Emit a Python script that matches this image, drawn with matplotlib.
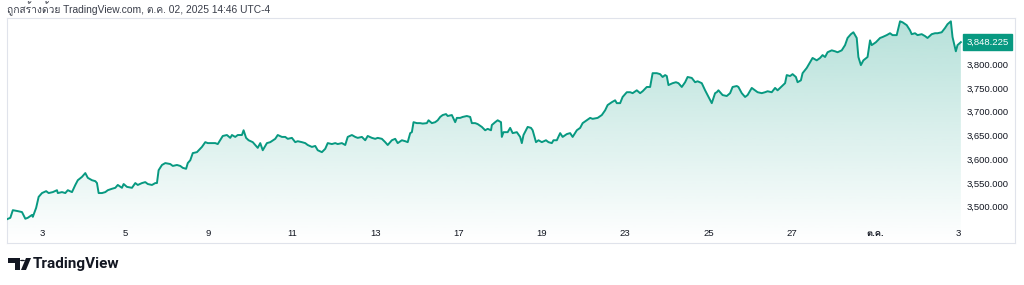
import matplotlib
matplotlib.use("Agg")
import matplotlib.pyplot as plt
import matplotlib.patches as mpatches
from matplotlib import font_manager, ft2font
from matplotlib.path import Path
import numpy as np


def family_with(ch):
    # look for an installed font that has the Thai glyph
    for f in font_manager.fontManager.ttflist:
        try:
            if ord(ch) in ft2font.FT2Font(f.fname).get_charmap():
                return f.name
        except Exception:
            pass
    return None


thai = family_with("ก")
families = ["Liberation Sans"] + ([thai] if thai else []) + ["DejaVu Sans"]
plt.rcParams["font.family"] = families

# time in x-tick units (tick i = label i), price values
t = [-0.42, -0.38, -0.35, -0.29, -0.24, -0.20, -0.17, -0.12, -0.11, -0.07, -0.04, 0.00,
     0.05, 0.08, 0.13, 0.18, 0.19, 0.24, 0.28, 0.31, 0.36, 0.40, 0.43, 0.48, 0.52, 0.55,
     0.60, 0.64, 0.66, 0.68, 0.72, 0.76, 0.79, 0.84, 0.88, 0.91, 0.96, 0.98, 1.02, 1.08,
     1.12, 1.15, 1.20, 1.24, 1.27, 1.32, 1.36, 1.38, 1.40, 1.44, 1.48, 1.54, 1.57, 1.62,
     1.66, 1.69, 1.73, 1.75, 1.78, 1.81, 1.86, 1.92, 1.96, 1.99, 2.04, 2.08, 2.11, 2.17,
     2.22, 2.26, 2.28, 2.32, 2.35, 2.40, 2.42, 2.45, 2.48, 2.53, 2.56, 2.59, 2.62, 2.65,
     2.70, 2.74, 2.80, 2.83, 2.88, 2.92, 2.95, 3.00, 3.04, 3.07, 3.12, 3.16, 3.19, 3.24,
     3.28, 3.31, 3.36, 3.40, 3.43, 3.48, 3.52, 3.55, 3.60, 3.64, 3.67, 3.72, 3.76, 3.79,
     3.84, 3.88, 3.91, 3.96, 4.00, 4.03, 4.08, 4.12, 4.15, 4.20, 4.24, 4.27, 4.32, 4.36,
     4.39, 4.42, 4.44, 4.46, 4.50, 4.54, 4.57, 4.62, 4.64, 4.68, 4.72, 4.75, 4.78, 4.81,
     4.85, 4.87, 4.92, 4.96, 4.98, 5.02, 5.05, 5.10, 5.14, 5.16, 5.20, 5.23, 5.28, 5.32,
     5.35, 5.39, 5.40, 5.44, 5.47, 5.51, 5.52, 5.54, 5.59, 5.62, 5.65, 5.70, 5.74, 5.76,
     5.78, 5.83, 5.87, 5.89, 5.93, 5.96, 6.00, 6.05, 6.08, 6.12, 6.14, 6.18, 6.22, 6.25,
     6.30, 6.34, 6.37, 6.42, 6.46, 6.49, 6.58, 6.61, 6.67, 6.72, 6.76, 6.79, 6.84, 6.88,
     6.90, 6.94, 6.97, 7.02, 7.06, 7.09, 7.14, 7.18, 7.21, 7.26, 7.30, 7.33, 7.38, 7.42,
     7.45, 7.48, 7.50, 7.52, 7.57, 7.61, 7.64, 7.68, 7.72, 7.75, 7.80, 7.84, 7.87, 7.92,
     7.96, 7.99, 8.04, 8.08, 8.10, 8.12, 8.17, 8.22, 8.26, 8.29, 8.34, 8.36, 8.40, 8.44,
     8.47, 8.52, 8.56, 8.59, 8.64, 8.68, 8.71, 8.76, 8.80, 8.83, 8.92, 8.94, 8.98, 9.01,
     9.05, 9.07, 9.11, 9.13, 9.18, 9.22, 9.25, 9.30, 9.34, 9.37, 9.40, 9.43, 9.48, 9.52,
     9.55, 9.60, 9.64, 9.67, 9.71, 9.74, 9.78, 9.80, 9.83, 9.86, 9.91, 9.94, 9.96, 10.01,
     10.06, 10.09, 10.14, 10.18, 10.21, 10.26, 10.30, 10.33, 10.38, 10.42, 10.44, 10.48,
     10.51, 10.56, 10.60, 10.63, 10.68, 10.72, 10.75, 10.80, 10.84, 10.87, 10.91, 10.93,
     10.97, 10.99, 11.03]

price = [3476, 3479, 3495, 3493, 3491, 3477, 3479, 3485, 3481, 3500, 3523, 3531,
         3535, 3531, 3533, 3537, 3531, 3533, 3531, 3537, 3533, 3548, 3558, 3565, 3573, 3563,
         3558, 3556, 3552, 3531, 3531, 3533, 3537, 3540, 3542, 3548, 3542, 3550, 3544, 3542,
         3552, 3548, 3552, 3554, 3550, 3548, 3552, 3552, 3579, 3590, 3594, 3592, 3588, 3590,
         3588, 3584, 3582, 3594, 3600, 3615, 3617, 3628, 3638, 3636, 3636, 3636, 3634, 3651,
         3653, 3647, 3653, 3649, 3653, 3653, 3663, 3647, 3642, 3638, 3632, 3626, 3636, 3621,
         3636, 3638, 3645, 3653, 3649, 3649, 3645, 3647, 3638, 3640, 3638, 3636, 3632, 3628,
         3630, 3621, 3617, 3624, 3636, 3634, 3636, 3634, 3636, 3632, 3649, 3653, 3649, 3647,
         3649, 3642, 3651, 3647, 3645, 3647, 3645, 3638, 3632, 3642, 3645, 3636, 3642, 3640,
         3638, 3657, 3659, 3680, 3678, 3678, 3677, 3678, 3684, 3678, 3680, 3684, 3691, 3695,
         3697, 3693, 3695, 3680, 3689, 3689, 3691, 3693, 3691, 3678, 3678, 3676, 3670, 3663,
         3666, 3663, 3674, 3680, 3684, 3680, 3649, 3659, 3659, 3668, 3657, 3659, 3649, 3636,
         3653, 3670, 3668, 3663, 3638, 3642, 3638, 3642, 3638, 3636, 3642, 3642, 3657, 3649,
         3655, 3657, 3649, 3663, 3668, 3678, 3689, 3687, 3689, 3695, 3705, 3716, 3722, 3726,
         3720, 3720, 3733, 3743, 3743, 3741, 3747, 3741, 3745, 3754, 3754, 3783, 3783, 3781,
         3775, 3779, 3777, 3758, 3762, 3764, 3762, 3754, 3764, 3775, 3773, 3764, 3766, 3762,
         3747, 3737, 3720, 3741, 3743, 3747, 3737, 3735, 3741, 3754, 3756, 3754, 3741, 3733,
         3737, 3752, 3747, 3743, 3741, 3743, 3745, 3743, 3752, 3747, 3762, 3779, 3777, 3781,
         3775, 3764, 3768, 3783, 3794, 3806, 3815, 3810, 3815, 3821, 3817, 3827, 3831, 3829,
         3827, 3831, 3842, 3857, 3865, 3869, 3857, 3817, 3800, 3810, 3817, 3852, 3842, 3848,
         3857, 3859, 3863, 3867, 3863, 3863, 3892, 3890, 3884, 3873, 3865, 3867,
         3863, 3865, 3861, 3857, 3865, 3867, 3867, 3869, 3878, 3886, 3892, 3859,
         3829, 3842, 3848.225]

x_labels = ["3", "5", "9", "11", "13", "17", "19", "23", "25", "27", "ต.ค.", "3"]
y_ticks = [3500, 3550, 3600, 3650, 3700, 3750, 3800]
last_price = 3848.225

GREEN = "#089981"
TXT = "#131722"
BORDER = "#e0e3eb"
YMIN, YMAX = 3426, 3899

fig = plt.figure(figsize=(10.24, 2.85), dpi=100)
ax = fig.add_axes([7 / 1024, 1 - 243 / 285, 1008 / 1024, 225 / 285])

ax.plot(t, price, color=GREEN, lw=1.4, solid_joinstyle="round", zorder=3)

# gradient fill below the line
clip = Path(np.vstack([np.column_stack([t, price]),
                       [[t[-1], YMIN], [t[0], YMIN]]]))
grad = np.zeros((256, 1, 4))
grad[..., :3] = matplotlib.colors.to_rgb(GREEN)
grad[:, 0, 3] = np.linspace(0.30, 0.0, 256)
im = ax.imshow(grad, aspect="auto", extent=[t[0], t[-1], YMIN, YMAX],
               origin="upper", zorder=2, interpolation="bicubic")
im.set_clip_path(mpatches.PathPatch(clip, transform=ax.transData))
ax.set_xlim(-0.42, 11.68)
ax.set_ylim(YMIN, YMAX)

ax.set_xticks([])
ax.set_yticks([])
for s in ax.spines.values():
    s.set_color(BORDER)
    s.set_linewidth(0.8)

# x labels inside the pane
for i, lab in enumerate(x_labels):
    ax.text(i, 0.044, lab, transform=ax.get_xaxis_transform(), ha="center",
            va="center", fontsize=6.8, color=TXT,
            fontweight="bold" if lab == "ต.ค." else "normal")

# y labels inside the pane, right side
ytr = ax.get_yaxis_transform()
for v in y_ticks:
    ax.text(0.9935, v, f"{v:,.3f}", transform=ytr, ha="right", va="center",
            fontsize=6.8, color=TXT)

ax.text(0.9935, last_price, f"{last_price:,.3f}", transform=ytr, ha="right",
        va="center", fontsize=6.8, color="white", zorder=6,
        bbox=dict(boxstyle="square,pad=0.35", fc=GREEN, ec=GREEN))

fig.text(7 / 1024, 1 - 9 / 285, "ถูกสร้างด้วย TradingView.com, ต.ค. 02, 2025 14:46 UTC-4",
         fontsize=7.4, color="#3a3e4a", ha="left", va="center")

# TradingView logo
w = 1 / 1024
hy = lambda py: 1 - py / 285
fig.patches.append(mpatches.Polygon(
    [(8 * w, hy(258)), (20 * w, hy(258)), (20 * w, hy(270)),
     (15 * w, hy(270)), (15 * w, hy(263)), (8 * w, hy(263))],
    closed=True, transform=fig.transFigure, fc=TXT, ec="none"))
fig.patches.append(mpatches.Circle((22.5 * w, hy(260.5)), 2.5 * w,
                                   transform=fig.transFigure, fc=TXT, ec="none"))
fig.patches.append(mpatches.Polygon(
    [(26 * w, hy(258)), (31 * w, hy(258)), (26 * w, hy(270)), (21 * w, hy(270))],
    closed=True, transform=fig.transFigure, fc=TXT, ec="none"))
fig.text(33 / 1024, hy(264), "TradingView", fontsize=11, fontweight="bold",
         family=["Roboto", "DejaVu Sans"], color=TXT, ha="left", va="center")

fig.savefig("out.png", dpi=100, facecolor="white")
